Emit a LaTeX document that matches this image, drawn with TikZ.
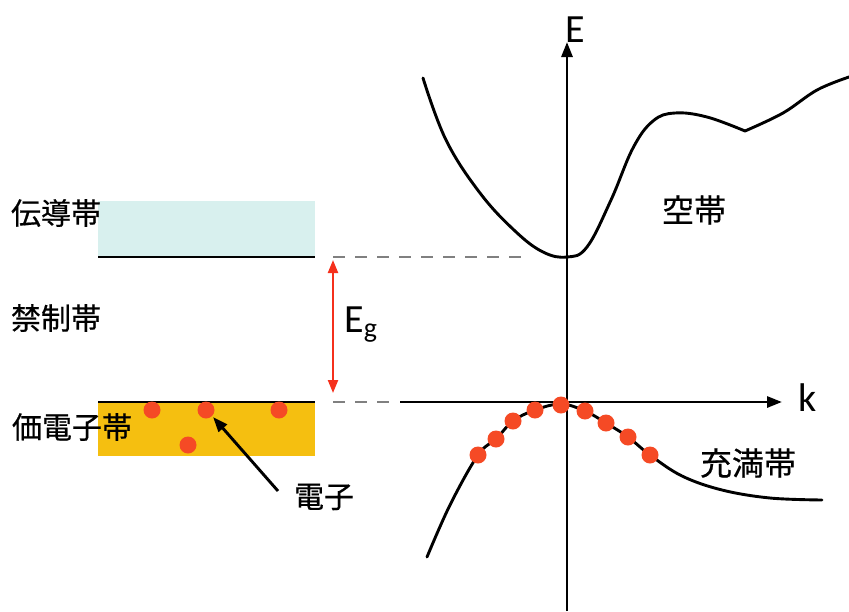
\documentclass[tikz,border=0pt]{standalone}
\usepackage{fontspec}
\setmainfont{Carlito}
\newfontfamily\jpfont[FakeBold=0.6]{Noto Sans CJK JP}
\usetikzlibrary{arrows.meta}
\definecolor{condcol}{HTML}{D8F0EE}
\definecolor{valcol}{HTML}{F5BF10}
\definecolor{dotcol}{HTML}{F54A25}
\definecolor{gapcol}{HTML}{F5301C}
\definecolor{dashcol}{HTML}{808080}
\begin{document}
\begin{tikzpicture}[x=1pt,y=-1pt,line width=2.9pt,
  jp/.style={font=\jpfont\fontsize{30}{33}\selectfont,inner sep=0pt},
  jpr/.style={font=\jpfont\fontsize{32}{35}\selectfont,inner sep=0pt},
  lat/.style={font=\fontsize{40}{44}\selectfont,inner sep=0pt},
  dot/.style={circle,fill=dotcol,minimum size=17pt,inner sep=0pt},
  guide/.style={dashcol,line width=2.2pt,dash pattern=on 12pt off 10pt},
  axis/.style={-{Triangle[length=15pt,width=11pt]}}]
\useasboundingbox (0,0) rectangle (849,611);
% bands
\fill[condcol] (98,201) rectangle (315,257);
\fill[valcol] (98,402) rectangle (315,456);
\coordinate (cbl) at (98,257);
\coordinate (cbr) at (315,257);
\coordinate (vbl) at (98,402);
\coordinate (vbr) at (315,402);
\draw (cbl) -- (cbr);
\draw (vbl) -- (vbr);
\node[jp] (lcond) at (56,213) {伝導帯};
\node[jp] (lgap) at (56,318) {禁制帯};
\node[jp] (lval) at (72,427) {価電子帯};
\node[dot] (v1) at (152,410) {};
\node[dot] (v2) at (206,410) {};
\node[dot] (v3) at (279,410) {};
\node[dot] (v4) at (188,445) {};
\node[jp] (lel) at (324,497) {電子};
\coordinate (eltail) at (278,491);
\draw[-{Triangle[length=15pt,width=11pt]}] (eltail) -- (v2.south east);
% gap
\coordinate (gtop) at (333,257);
\coordinate (gbot) at (333,402);
\coordinate (cmin) at (530,257);
\coordinate (vend) at (398,402);
\draw[guide] (gtop) -- (cmin);
\draw[guide] (gbot) -- (vend);
\draw[gapcol,line width=2.2pt,{Triangle[length=13pt,width=10pt]}-{Triangle[length=13pt,width=10pt]}] ([yshift=-3pt]gtop) -- ([yshift=9pt]gbot);
\node[lat,anchor=west] (eg) at (343,325) {E\textsubscript{g}};
% axes
\coordinate (eorig) at (567,611);
\coordinate (etip) at (567,42);
\coordinate (korig) at (400,402);
\coordinate (ktip) at (782,402);
\draw[axis] (eorig) -- (etip);
\draw[axis] (korig) -- (ktip);
\node[lat,anchor=south] (elab) at (575,44) {E};
\node[lat,anchor=west] (klab) at (797,398) {k};
% conduction band
\draw[line cap=round] plot[smooth,tension=0.65] coordinates {(423,78) (446,140) (480,193) (515,231) (543,252) (567,257) (587,247) (611,200) (633,148) (653,121) (675,113) (707,117) (745,131)};
\draw[line cap=round] plot[smooth,tension=0.6] coordinates {(745,131) (783,113) (817,90) (849,77)};
\node[jpr] (lcb) at (694,210) {空帯};
% valence band
\draw[line cap=round] plot[smooth,tension=0.6] coordinates {(427,557) (450,505) (478,455) (496,439) (513,421) (535,410) (561,404) (585,411) (606,423) (628,437) (650,455) (682,476) (722,490) (770,498) (822,500)};
\foreach \n/\p in {1/{478,455},2/{496,439},3/{513,421},4/{535,410},5/{561,405},6/{585,411},7/{606,423},8/{628,437},9/{650,455}}
  \node[dot] (e\n) at (\p) {};
\node[jpr] (lfull) at (748,463) {充満帯};
\end{tikzpicture}
\end{document}
